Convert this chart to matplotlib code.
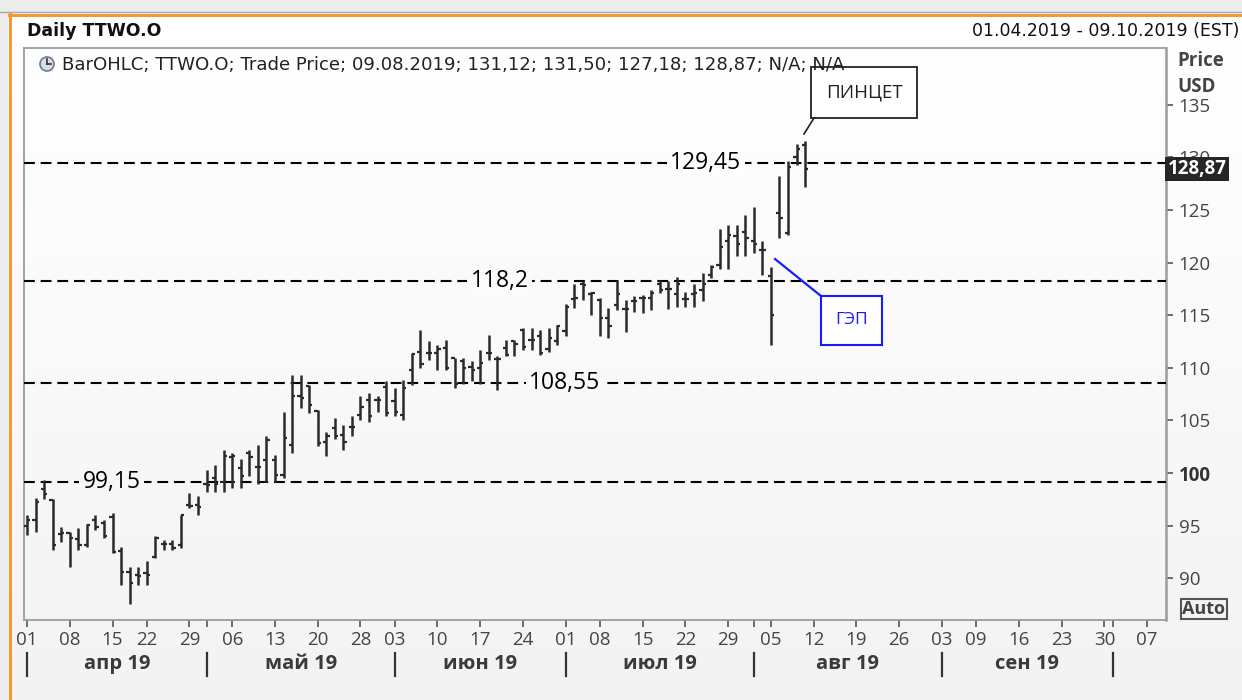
import numpy as np
import pandas as pd
import matplotlib
matplotlib.use("Agg")
import matplotlib.pyplot as plt
from matplotlib.transforms import blended_transform_factory
from matplotlib.patches import Rectangle, Circle

# ---------------- data ----------------
opens = [95.0, 95.5, 98.5, 97.4, 94.2, 94.3, 93.7, 93.2, 95.5, 95.3,
         95.8, 92.6, 90.6, 90.3, 90.5, 92.0, 93.3, 93.3, 93.2, 97.0,
         97.0, 99.0, 99.5, 99.2, 101.5, 100.5, 101.9, 100.6, 101.2, 101.2,
         99.8, 102.7, 107.3, 108.3, 105.9, 103.0, 104.3, 103.6, 104.4, 105.5,
         106.9, 106.9, 108.2, 106.8, 105.5, 109.8, 111.5, 111.4, 111.4, 111.9,
         110.9, 110.6, 110.1, 110.0, 111.4, 110.8, 111.9, 112.5, 113.6, 112.6,
         113.0, 111.8, 112.5, 113.5, 116.5, 118.0, 117.0, 116.4, 114.7, 116.0,
         115.6, 116.3, 116.6, 116.6, 118.0, 117.5, 117.0, 116.5, 117.0, 117.4,
         118.8, 119.8, 122.0, 122.5, 122.9, 122.0, 121.2, 118.7, 124.7, 122.8,
         130.0, 131.12]
highs = [96.0, 97.6, 99.3, 97.5, 94.9, 94.4, 94.8, 95.2, 96.0, 95.5,
         96.2, 93.0, 91.1, 91.1, 91.7, 94.0, 93.6, 93.6, 96.0, 98.1,
         97.8, 100.3, 100.8, 102.2, 101.9, 101.3, 102.2, 102.7, 103.5, 101.7,
         105.8, 109.3, 109.3, 108.4, 106.0, 103.9, 105.2, 104.6, 105.4, 107.3,
         107.6, 107.3, 108.7, 108.1, 108.8, 111.4, 113.6, 112.5, 112.2, 112.6,
         110.9, 110.9, 110.6, 111.7, 113.1, 111.1, 112.6, 112.6, 113.8, 113.8,
         113.6, 113.8, 114.1, 116.1, 118.0, 118.2, 117.2, 116.6, 115.7, 118.3,
         116.4, 116.8, 116.9, 117.4, 118.3, 118.2, 118.6, 117.2, 118.0, 119.0,
         119.8, 123.2, 123.6, 123.6, 124.5, 125.3, 122.0, 119.6, 128.2, 129.6,
         131.3, 131.50]
lows = [94.1, 94.4, 97.5, 92.7, 93.5, 91.1, 92.7, 93.0, 94.6, 93.8,
        92.4, 89.4, 87.6, 89.4, 89.4, 91.9, 92.7, 92.7, 92.9, 96.7,
        96.0, 98.2, 98.2, 98.2, 98.6, 98.6, 99.7, 99.0, 99.2, 99.2,
        99.5, 101.9, 106.2, 105.7, 102.6, 101.6, 103.2, 102.2, 103.5, 105.0,
        104.9, 105.8, 105.4, 105.4, 105.0, 108.4, 110.0, 110.7, 109.8, 109.8,
        108.1, 108.5, 108.7, 108.5, 110.7, 107.9, 111.1, 111.1, 111.7, 111.7,
        111.2, 111.5, 112.2, 113.0, 115.7, 116.4, 115.0, 113.0, 112.8, 115.5,
        113.4, 115.3, 115.2, 115.5, 117.1, 115.6, 115.8, 115.8, 115.8, 116.3,
        118.5, 119.4, 119.4, 120.6, 120.6, 120.9, 118.8, 112.2, 122.3, 122.6,
        129.3, 127.18]
closes = [95.5, 97.3, 98.0, 93.2, 94.3, 93.8, 93.2, 95.1, 94.9, 94.0,
          92.5, 90.6, 89.6, 90.2, 90.3, 93.8, 93.3, 92.9, 96.0, 96.9,
          96.8, 98.9, 99.0, 101.6, 101.6, 99.7, 101.5, 100.6, 103.1, 99.8,
          103.3, 107.3, 107.1, 106.5, 102.9, 103.5, 103.5, 103.0, 104.4, 106.3,
          105.4, 106.9, 105.7, 105.8, 108.1, 111.3, 110.4, 111.4, 111.8, 110.0,
          108.5, 110.0, 109.8, 110.5, 111.4, 110.8, 111.2, 112.3, 112.0, 112.6,
          111.4, 112.8, 114.0, 115.8, 116.6, 117.9, 117.1, 114.7, 114.0, 117.0,
          115.6, 116.3, 116.6, 117.1, 117.4, 117.5, 118.0, 116.5, 117.1, 118.0,
          119.6, 121.5, 122.6, 121.8, 122.3, 121.8, 121.2, 115.0, 124.2, 129.1,
          130.8, 128.87]

level_values = [129.45, 118.2, 108.55, 99.15]
level_labels = ["129,45", "118,2", "108,55", "99,15"]
level_label_pos = [79.4, 55.3, 62.9, 9.9]          # trading-day index of the label

month_names = ["апр 19", "май 19", "июн 19", "июл 19", "авг 19", "сен 19"]
y_ticks = [90, 95, 100, 105, 110, 115, 120, 125, 130, 135]
last_close_label = "128,87"
legend_text = "BarOHLC; TTWO.O; Trade Price; 09.08.2019; 131,12; 131,50; 127,18; 128,87; N/A; N/A"
title_text = "Daily TTWO.O"
range_text = "01.04.2019 - 09.10.2019 (EST)"

# trading calendar (axis positions)
holidays = pd.to_datetime(["2019-04-19", "2019-05-27", "2019-07-04", "2019-09-02"])
days = pd.bdate_range("2019-04-01", "2019-10-09")
days = days[~days.isin(holidays)]
n_bars = len(opens)
xb = np.arange(n_bars)

# ---------------- figure ----------------
W, H = 1242, 700
fig = plt.figure(figsize=(W / 100, H / 100), dpi=100)
FONT = "Open Sans"

def shade(ypix):
    v = 255 - (ypix - 40) / (700 - 40) * 12
    v = max(min(v, 255), 243) / 255
    return (v, v, v)

# background
bg = fig.add_axes([0, 0, 1, 1], zorder=-10)
bg.set_xlim(0, W); bg.set_ylim(H, 0); bg.axis("off")
grad = np.array([shade(y) for y in range(H)])[:, None, :]
bg.imshow(np.repeat(grad, 4, axis=1), extent=[0, W, H, 0], aspect="auto")
bg.add_patch(Rectangle((0, 0), W, 12, color="#ececec", lw=0))
bg.add_patch(Rectangle((0, 0), 8, H, color="#ececec", lw=0))
bg.plot([0, W], [12, 12], color="#a8a8a8", lw=1)
bg.plot([9, W], [14.5, 14.5], color="#f39a34", lw=2.2)
bg.plot([9.5, 9.5], [14, H], color="#f39a34", lw=2.2)

# main axes
L, R, T, B = 24, 1166, 48, 620
ax = fig.add_axes([L / W, (H - B) / H, (R - L) / W, (B - T) / H], zorder=1)
ax.set_facecolor("none")
ax.set_xlim(-0.35, 133.2)
ax.set_ylim(86.05, 140.37)
for s in ax.spines.values():
    s.set_color("#9c9c9c")
    s.set_linewidth(1.3)
ax.spines["right"].set_linewidth(1.8)

# OHLC bars
bar_col = "#2a2a2a"
ax.vlines(xb, lows, highs, color=bar_col, lw=1.8, zorder=4)
ax.hlines(opens, xb - 0.38, xb, color=bar_col, lw=1.6, zorder=4)
ax.hlines(closes, xb, xb + 0.38, color=bar_col, lw=1.6, zorder=4)

# horizontal levels
for v, lab, xp in zip(level_values, level_labels, level_label_pos):
    ax.axhline(v, color="black", lw=1.5, ls=(0, (5.2, 2.8)), zorder=3)
    ypix = T + (140.37 - v) / (140.37 - 86.05) * (B - T)
    ax.text(xp, v, lab, ha="center", va="center", fontsize=16.5, family=FONT,
            color="black", zorder=5,
            bbox=dict(boxstyle="square,pad=0.15", fc=shade(ypix), ec="none"))

# y axis on right
ax.yaxis.tick_right()
ax.set_yticks(y_ticks)
ax.set_yticklabels([str(t) for t in y_ticks])
ax.tick_params(axis="y", direction="out", length=5, width=1.2, color="#555555",
               pad=4, labelsize=13.5, labelcolor="#444444")
for lbl in ax.get_yticklabels():
    lbl.set_family(FONT)
    if lbl.get_text() == "100":
        lbl.set_fontweight("bold")
        lbl.set_color("#333333")

blend_y = blended_transform_factory(ax.transAxes, ax.transData)
ax.text(1.0015, closes[-1], last_close_label, transform=blend_y, ha="left", va="center",
        fontsize=13.5, fontweight="bold", family=FONT, color="white", zorder=10,
        clip_on=False,
        bbox=dict(boxstyle="square,pad=0.12", fc="#262626", ec="none"))

# x axis ticks
week_starts, month_starts = [], []
for i, d in enumerate(days):
    if i == 0 or d.isocalendar()[1] != days[i - 1].isocalendar()[1]:
        week_starts.append(i)
    if i == 0 or d.month != days[i - 1].month:
        month_starts.append(i)
ax.set_xticks(week_starts)
ax.set_xticklabels([f"{days[i].day:02d}" for i in week_starts])
ax.set_xticks([i for i in month_starts if i not in week_starts], minor=True)
ax.tick_params(axis="x", which="both", direction="out", length=5, width=1.2,
               color="#555555", pad=3, labelsize=13.5, labelcolor="#444444")
for lbl in ax.get_xticklabels():
    lbl.set_family(FONT)

blend_x = blended_transform_factory(ax.transData, ax.transAxes)
def yfrac(ypix):
    return (B - ypix) / (B - T)
for ms in month_starts:
    ax.plot([ms, ms], [yfrac(653), yfrac(676)], transform=blend_x, color="#333333",
            lw=1.6, clip_on=False)
for k, name in enumerate(month_names):
    xc = (month_starts[k] + month_starts[k + 1]) / 2
    ax.text(xc, yfrac(664), name, transform=blend_x, ha="center", va="center",
            fontsize=14.5, fontweight="bold", family=FONT, color="#3a3a3a", clip_on=False)

# annotations: ПИНЦЕТ
def xd(px):
    return -0.35 + (px - L) / (R - L) * 133.55
def yd(py):
    return 140.37 - (py - T) / (B - T) * (140.37 - 86.05)

ax.add_patch(Rectangle((xd(811), yd(118)), xd(917) - xd(811), yd(67) - yd(118),
                       fc="white", ec="#222222", lw=1.3, zorder=6, clip_on=False))
ax.text((xd(811) + xd(917)) / 2, yd(92.5), "ПИНЦЕТ", ha="center", va="center",
        fontsize=13.5, family=FONT, color="#222222", zorder=7)
ax.plot([xd(814), xd(804)], [yd(118), yd(134)], color="#222222", lw=1.2, zorder=6)

# annotations: ГЭП
ax.add_patch(Rectangle((xd(821), yd(345)), xd(882) - xd(821), yd(296) - yd(345),
                       fc="white", ec="#1a1aff", lw=1.5, zorder=6))
ax.text((xd(821) + xd(882)) / 2, yd(320.5), "ГЭП", ha="center", va="center",
        fontsize=12.5, family=FONT, color="#1a1aff", zorder=7)
ax.plot([xd(775), xd(821)], [yd(259), yd(296)], color="#1a1aff", lw=1.6, zorder=6)

# overlay (pixel coordinates) for header texts
ov = fig.add_axes([0, 0, 1, 1], zorder=5)
ov.set_xlim(0, W); ov.set_ylim(H, 0); ov.axis("off")
ov.text(27, 31, title_text, ha="left", va="center", fontsize=12.5, fontweight="bold",
        family="DejaVu Sans", color="#111111")
ov.text(1239, 31, range_text, ha="right", va="center", fontsize=12.5,
        family="DejaVu Sans", color="#111111")
ov.text(62, 65, legend_text, ha="left", va="center", fontsize=13.1, family="DejaVu Sans",
        color="#222222")
ov.add_patch(Circle((47, 64), 7, fc="#d5dde6", ec="#6e7b88", lw=1.2))
ov.plot([47, 47], [64, 58.5], color="#333333", lw=1.2)
ov.plot([47, 51], [64, 64], color="#333333", lw=1.2)
ov.text(1177, 61, "Price", ha="left", va="center", fontsize=13.5, fontweight="bold",
        family=FONT, color="#444444")
ov.text(1177, 87, "USD", ha="left", va="center", fontsize=13.5, fontweight="bold",
        family=FONT, color="#444444")
ov.text(1204, 609, "Auto", ha="center", va="center", fontsize=13, fontweight="bold",
        family=FONT, color="#444444",
        bbox=dict(boxstyle="square,pad=0.08", fc="#f4f4f4", ec="#555555", lw=1.5))

fig.savefig("out.png", dpi=100)
